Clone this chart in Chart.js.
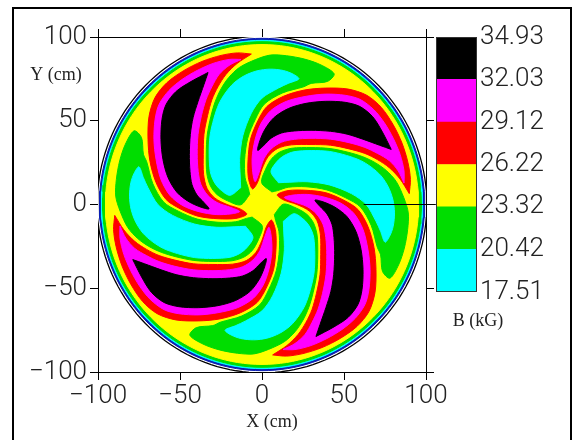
<!DOCTYPE html>
<html>
<head>
<meta charset="utf-8">
<script src="https://cdn.jsdelivr.net/npm/chart.js@4.4.1/dist/chart.umd.min.js"></script>
<style>
  html, body { margin: 0; padding: 0; background: #fff; }
  #wrap { position: relative; width: 574px; height: 440px; overflow: hidden; }
  #wrap canvas { position: absolute; left: 0; top: 0; }
  #frame { position: absolute; left: 12px; top: 7px; width: 556px; height: 450px; border: 2px solid #000; pointer-events: none; }
</style>
</head>
<body>
<div id="wrap">
  <canvas id="fieldMap" width="574" height="440"></canvas>
  <canvas id="colorBar" width="574" height="440"></canvas>
  <div id="frame"></div>
</div>
<script>
// contour levels of B (kG) and the colour of each band
const levels = [17.51, 20.42, 23.32, 26.22, 29.12, 32.03, 34.93];
const levelColors = ['#00ffff', '#00dd00', '#ffff00', '#ff0000', '#ff00ff', '#000000'];
const axisTicks = [-100, -50, 0, 50, 100];
const axisNames = { x: 'X (cm)', y: 'Y (cm)', field: 'B (kG)' };

// fringe rings at the pole edge (cm), outermost first
const ringRadius = [100.5, 99.2, 98.0, 97.2, 95.5];
const ringColor = ['#ffffff', '#0a1eb4', '#00ffff', '#00dd00', '#ffff00'];

// one spiral hill (upper-left sector), contour outlines in cm
const hillRed = [[-6.5,89.8],[-15,90.5],[-25,89],[-36.6,85.4],[-47.6,80],[-57.9,72.8],[-65.2,63.9],[-68.9,52.5],[-69.5,38.8],[-68.3,25.7],[-64.6,13.1],[-58.5,3],[-50,-2.5],[-39,-7],[-26.8,-8.5],[-15.9,-8.3],[-9.3,-5.8],[-13,-2.8],[-21.3,0],[-28.7,3.8],[-33.5,9.6],[-35.6,17.9],[-35.8,29.9],[-35.4,41.8],[-33.2,53.1],[-30.5,62.7],[-26.8,70.4],[-22,77.6],[-15.2,84.2],[-6.5,89.8]];
const hillMagenta = [[-12.8,86.6],[-20.1,86.6],[-29.9,84.2],[-39.6,80],[-48.8,74.6],[-56.7,68.1],[-62.8,59.7],[-65.2,50.7],[-65.9,38.8],[-64.6,26.9],[-61.6,14.9],[-56.1,5.4],[-48.2,-0.7],[-38.4,-4.3],[-28,-6],[-18.9,-5.6],[-13.6,-4.2],[-19,-1.8],[-27.4,1.2],[-33.2,5.6],[-37.2,11.9],[-38.9,19.7],[-39.5,29.9],[-39,41.8],[-36.9,53.1],[-34.1,62.7],[-30.5,70.4],[-26.2,77.6],[-20.1,83],[-12.8,86.6]];
const hillBlack = [[-32.9,78.8],[-43.3,73.4],[-52.4,67.5],[-58.5,59.7],[-61,50.7],[-61.6,38.8],[-60.4,26.9],[-57.3,16.1],[-51.8,7.2],[-44.5,1.6],[-37.2,-1.6],[-32.3,-2.6],[-35.4,1.2],[-39.6,5.6],[-42.7,11.9],[-43.9,19.7],[-44.3,29.9],[-43.7,41.8],[-42,51.9],[-39,61.5],[-35.4,71.6],[-32.9,78.8]];

// the valley that follows it (upper sector)
const valleyGreen = [[-7.5,6],[-13,-0.2],[-21,2.2],[-27.5,6],[-31.4,11],[-33.6,18.3],[-34,29.9],[-33.4,41.5],[-31.2,52.5],[-28.5,61.5],[-25,69],[-20.3,75.8],[-13.8,81.8],[-4,86.5],[5,89.2],[15,88.8],[26,86.8],[36,83.3],[44,78],[40,73.5],[30,72.3],[25.5,70.3],[12.5,66.6],[1.5,60],[-4,51],[-8.7,39.5],[-10.6,26.8],[-10.3,16],[-8.3,9.5],[-7.5,6]];
const valleyCyan = [[-13,10],[-19.5,5.5],[-25.5,9],[-29.2,13.5],[-31.5,19.5],[-32.2,30],[-31.7,41],[-29.3,51.5],[-26.3,60],[-22.4,66.5],[-17.2,72.5],[-10.5,77],[-3,79.8],[5,80.8],[13,80],[19,77.8],[22.5,75],[16,72.3],[10,69.5],[0,63.5],[-6.5,54.5],[-11.7,41],[-13.6,27.5],[-13.3,17],[-13,10]];

// four-fold magnet: each sector is the first one turned clockwise
const sectorTurn = [0, -90, -180, -270];
const zeroLine = [[62, 0], [106, 0]];

function turned(poly, deg) {
  const t = deg * Math.PI / 180, c = Math.cos(t), s = Math.sin(t);
  return poly.map(([x, y]) => ({ x: x * c - y * s, y: x * s + y * c }));
}

function circle(r) {
  const pts = [];
  for (let i = 0; i <= 160; i++) {
    const a = i * 2 * Math.PI / 160;
    pts.push({ x: r * Math.cos(a), y: r * Math.sin(a) });
  }
  return pts;
}

function shape(points, color, tension) {
  return {
    type: 'line', data: points, fill: 'shape',
    backgroundColor: color, borderColor: color, borderWidth: 1,
    pointRadius: 0, tension: tension
  };
}

// painting order: bottom first
const datasets = [];
ringRadius.forEach((r, i) => {
  const ds = shape(circle(r), ringColor[i], 0);
  if (i === 0) { ds.borderColor = '#000'; ds.borderWidth = 1.3; }
  datasets.push(ds);
});
sectorTurn.forEach(t => {
  datasets.push(shape(turned(valleyGreen, t), levelColors[1], 0.3));
  datasets.push(shape(turned(valleyCyan, t), levelColors[0], 0.3));
});
sectorTurn.forEach(t => {
  datasets.push(shape(turned(hillRed, t), levelColors[3], 0.3));
  datasets.push(shape(turned(hillMagenta, t), levelColors[4], 0.3));
  datasets.push(shape(turned(hillBlack, t), levelColors[5], 0.3));
});
datasets.push({
  type: 'line', data: zeroLine.map(([x, y]) => ({ x, y })),
  borderColor: '#000', borderWidth: 1, pointRadius: 0, fill: false, clip: false
});
datasets.forEach((ds, i) => { ds.order = datasets.length - i; });

const tickFont = { family: 'Roboto', size: 26, weight: '300' };
const tickGrid = { drawOnChartArea: false, drawTicks: true, tickLength: 8, color: '#000', lineWidth: 1 };
const axisBorder = { display: true, color: '#000', width: 1 };
const signed = v => (v < 0 ? '\u2212' + Math.abs(v) : String(v));
const fixTicks = s => { s.ticks = axisTicks.map(v => ({ value: v })); };

const captions = {
  id: 'captions',
  afterDraw(chart) {
    const ctx = chart.ctx;
    ctx.save();
    ctx.font = '18px "Liberation Serif"';
    ctx.fillStyle = '#222';
    ctx.textAlign = 'center';
    ctx.textBaseline = 'middle';
    ctx.fillText(axisNames.y, 56, 75);
    ctx.fillText(axisNames.x, 272, 422);
    ctx.restore();
  }
};

new Chart(document.getElementById('fieldMap'), {
  type: 'scatter',
  data: { datasets },
  options: {
    responsive: false, animation: false, devicePixelRatio: 1,
    layout: { padding: 0 },
    plugins: { legend: { display: false }, tooltip: { enabled: false } },
    scales: {
      x: {
        type: 'linear', position: 'bottom', min: -100, max: 100,
        afterBuildTicks: fixTicks,
        ticks: { font: tickFont, color: '#222', padding: 1, maxRotation: 0, autoSkip: false, callback: signed },
        grid: tickGrid, border: axisBorder,
        afterFit: s => { s.height = 68; }
      },
      xTop: {
        type: 'linear', axis: 'x', position: 'top', min: -100, max: 100,
        afterBuildTicks: fixTicks, ticks: { display: false },
        grid: tickGrid, border: axisBorder,
        afterFit: s => { s.height = 37; }
      },
      y: {
        type: 'linear', position: 'left', min: -100, max: 100,
        afterBuildTicks: fixTicks,
        ticks: { font: tickFont, color: '#222', padding: 3, autoSkip: false, callback: signed },
        grid: tickGrid, border: axisBorder,
        afterFit: s => { s.width = 98; }
      },
      yRight: {
        type: 'linear', axis: 'y', position: 'right', min: -100, max: 100,
        afterBuildTicks: fixTicks, ticks: { display: false },
        grid: tickGrid, border: axisBorder,
        afterFit: s => { s.width = 148; }
      }
    }
  },
  plugins: [captions]
});

// colour scale
const barFrame = {
  id: 'barFrame',
  afterDatasetsDraw(chart) {
    const { ctx, chartArea: a } = chart;
    ctx.save();
    ctx.strokeStyle = '#333';
    ctx.lineWidth = 1;
    ctx.strokeRect(a.left + 0.5, a.top + 0.5, a.right - a.left - 1, a.bottom - a.top - 1);
    ctx.font = '18px "Liberation Serif"';
    ctx.fillStyle = '#222';
    ctx.textAlign = 'center';
    ctx.textBaseline = 'middle';
    ctx.fillText(axisNames.field, 478, 321);
    ctx.restore();
  }
};

new Chart(document.getElementById('colorBar'), {
  type: 'bar',
  data: {
    labels: [''],
    datasets: levelColors.map((c, i) => ({
      data: [[levels[i], levels[i + 1]]],
      backgroundColor: c, borderWidth: 0,
      barPercentage: 1, categoryPercentage: 1, grouped: false
    }))
  },
  options: {
    responsive: false, animation: false, devicePixelRatio: 1,
    layout: { padding: { left: 436, top: 37, bottom: 148, right: 0 } },
    plugins: { legend: { display: false }, tooltip: { enabled: false } },
    scales: {
      x: { display: false },
      y: {
        position: 'right', min: levels[0], max: levels[levels.length - 1],
        afterBuildTicks: s => { s.ticks = levels.map(v => ({ value: v })); },
        ticks: { font: tickFont, color: '#222', padding: 3, autoSkip: false, callback: v => Number(v).toFixed(2) },
        grid: { display: false, drawTicks: false }, border: { display: false },
        afterFit: s => { s.width = 97; }
      }
    }
  },
  plugins: [barFrame]
});
</script>
</body>
</html>
